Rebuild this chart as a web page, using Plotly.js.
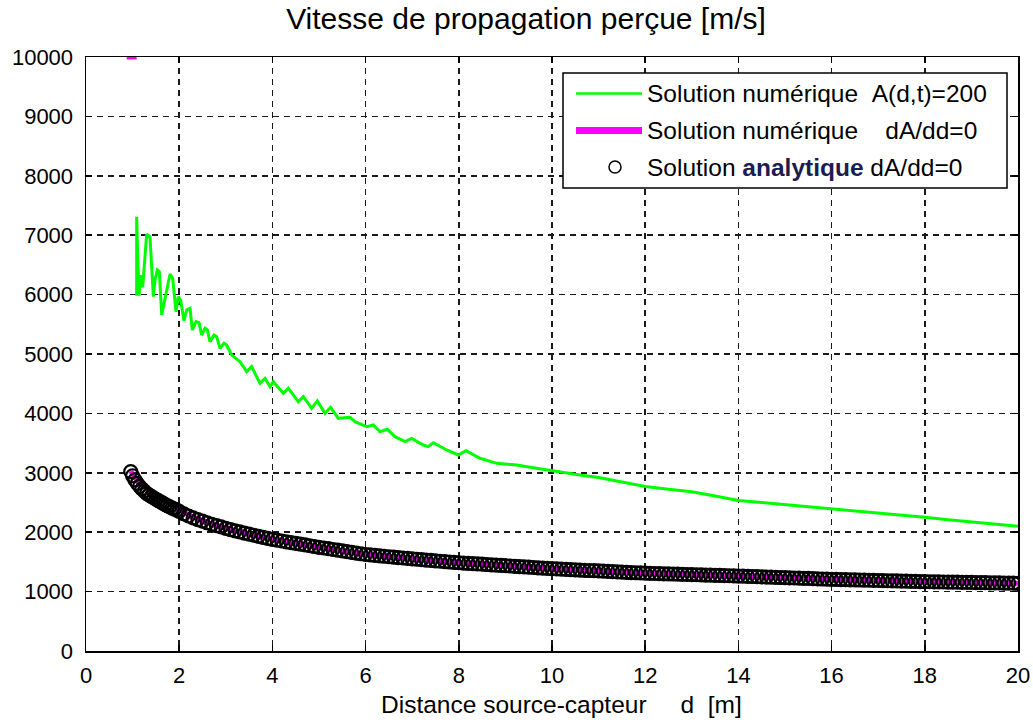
<!DOCTYPE html>
<html>
<head>
<meta charset="utf-8">
<script src="https://cdn.plot.ly/plotly-3.0.1.min.js"></script>
<style>html,body{margin:0;padding:0;background:#fff;}#chart{width:1033px;height:722px;}</style>
</head>
<body>
<div id="chart"></div>
<script>
// ---- data ----
const greenD = [1.087,1.087,1.109,1.137,1.173,1.216,1.302,1.373,1.445,1.481,1.531,1.574,1.624,1.695,1.803,1.860,1.931,1.981,2.031,2.103,2.160,2.232,2.282,2.361,2.425,2.482,2.554,2.604,2.661,2.747,2.804,2.876,2.961,3.019,3.126,
  3.305,3.448,3.555,3.734,3.841,3.948,4.02,4.235,4.342,4.556,4.664,4.843,4.964,5.129,5.25,5.415,5.665,5.773,6.023,6.166,6.309,6.466,6.631,6.845,6.989,7.239,7.346,7.453,7.74,7.99,8.155,8.455,8.813,9.242,9.528,9.886,10.243,10.6,
  11,11.5,12,12.5,13,13.5,14,14.5,15,15.5,16,16.5,17,17.5,18,18.5,19,19.5,20];
const greenV = [5982,7312,6639,5982,6330,6122,7015,6975,5965,6246,6414,6386,5657,5937,6347,6274,5713,5965,5909,5561,5741,5769,5404,5544,5527,5320,5432,5404,5208,5320,5292,5095,5180,5152,4983,
  4871,4703,4787,4506,4590,4450,4534,4338,4422,4198,4282,4085,4209,4001,4102,3917,3934,3861,3777,3805,3692,3732,3608,3524,3580,3468,3440,3507,3384,3300,3373,3244,3159,3131,3092,3047,3002,2963,
  2920,2840,2770,2725,2680,2610,2535,2500,2465,2435,2400,2365,2325,2290,2250,2210,2175,2140,2100];

const numD = [0.873,1.087,null,0.96,1.0,1.05,1.1,1.2,1.3,1.4,1.5,1.6,1.7,1.8,2.0,2.3,2.7,3.2,4,5,6,7,8,9,10,12,14,16,18,20];
const numV = [10000,10000,null,3030,2975,2915,2860,2790,2735,2680,2625,2570,2515,2465,2375,2255,2135,2025,1880,1746,1625,1548,1486,1434,1386,1310,1262,1208,1168,1140];

const anaD = [0.96,1.00,1.05,1.10,1.15,1.20,1.25,1.30,1.35,1.40,1.45,1.50,1.55,1.60,1.65,1.70,1.75,1.80,1.85,1.90,1.95,2.00,
  2.1,2.2,2.3,2.4,2.5,2.6,2.7,2.8,2.9,3.0,3.1,3.2,3.3,3.4,3.5,3.6,3.7,3.8,3.9,4.0,4.1,4.2,4.3,4.4,4.5,4.6,4.7,4.8,4.9,5.0,
  5.1,5.2,5.3,5.4,5.5,5.6,5.7,5.8,5.9,6.0,6.1,6.2,6.3,6.4,6.5,6.6,6.7,6.8,6.9,7.0,7.1,7.2,7.3,7.4,7.5,7.6,7.7,7.8,7.9,8.0,
  8.1,8.2,8.3,8.4,8.5,8.6,8.7,8.8,8.9,9.0,9.1,9.2,9.3,9.4,9.5,9.6,9.7,9.8,9.9,10.0,
  10.1,10.2,10.3,10.4,10.5,10.6,10.7,10.8,10.9,11.0,11.1,11.2,11.3,11.4,11.5,11.6,11.7,11.8,11.9,12.0,
  12.1,12.2,12.3,12.4,12.5,12.6,12.7,12.8,12.9,13.0,13.1,13.2,13.3,13.4,13.5,13.6,13.7,13.8,13.9,14.0,
  14.1,14.2,14.3,14.4,14.5,14.6,14.7,14.8,14.9,15.0,15.1,15.2,15.3,15.4,15.5,15.6,15.7,15.8,15.9,16.0,
  16.1,16.2,16.3,16.4,16.5,16.6,16.7,16.8,16.9,17.0,17.1,17.2,17.3,17.4,17.5,17.6,17.7,17.8,17.9,18.0,
  18.1,18.2,18.3,18.4,18.5,18.6,18.7,18.8,18.9,19.0,19.1,19.2,19.3,19.4,19.5,19.6,19.7,19.8,19.9,20.0];
const anaV = [3020,2950,2880,2820,2770,2730,2690,2655,2630,2605,2580,2555,2530,2510,2490,2465,2445,2425,2405,2390,2370,2350,
  2310,2273,2240,2212,2185,2159,2133,2110,2088,2066,2044,2023,2004,1985,1967,1949,1931,1914,1897,1880,1866,1852,1838,1824,1811,1798,1785,1772,1759,1746,
  1734,1722,1709,1697,1685,1673,1661,1649,1637,1625,1617,1610,1602,1595,1587,1580,1573,1566,1559,1552,1545,1538,1531,1524,1518,1511,1505,1498,1492,1486,
  1481,1476,1471,1466,1461,1456,1451,1446,1441,1436,1431,1426,1421,1416,1411,1406,1401,1396,1391,1386,
  1382,1378,1374,1371,1367,1363,1359,1355,1352,1348,1344,1340,1336,1333,1329,1325,1321,1317,1314,1310,
  1308,1305,1303,1300,1298,1296,1293,1291,1288,1286,1284,1281,1279,1276,1274,1272,1269,1267,1264,1262,
  1259,1256,1254,1251,1248,1245,1243,1240,1237,1234,1232,1229,1226,1223,1221,1218,1215,1212,1210,1207,
  1205,1203,1201,1199,1197,1195,1193,1191,1189,1187,1185,1183,1181,1179,1177,1175,1173,1171,1169,1167,
  1166,1164,1163,1162,1160,1159,1158,1156,1155,1154,1152,1151,1150,1148,1147,1146,1144,1143,1142,1140];

const xTicks = [0,2,4,6,8,10,12,14,16,18,20];
const yTicks = [0,1000,2000,3000,4000,5000,6000,7000,8000,9000,10000];
const legendLabels = [
  'Solution numérique\u00A0\u00A0A(d,t)=200',
  'Solution numérique\u00A0\u00A0\u00A0\u00A0dA/dd=0',
  'Solution <b style="color:#1c1c50">analytique</b> dA/dd=0'
];
const titleText = 'Vitesse de propagation perçue [m/s]';
const xTitleText = 'Distance source-capteur\u00A0\u00A0\u00A0\u00A0\u00A0d\u00A0\u00A0[m]';

// ---- chart ----
const FONT = 'Liberation Sans, Arial, Helvetica, sans-serif';
const traces = [
  {x: greenD, y: greenV, type: 'scatter', mode: 'lines', name: legendLabels[0],
   line: {color: '#00ff00', width: 3}, showlegend: false},
  {x: numD, y: numV, type: 'scatter', mode: 'lines', name: legendLabels[1],
   line: {color: '#ff00ff', width: 5}, connectgaps: false, showlegend: false},
  {x: anaD, y: anaV, type: 'scatter', mode: 'markers', name: legendLabels[2],
   marker: {symbol: 'circle-open', size: 13, color: '#000000', line: {width: 2.2}}, showlegend: false}
];

// legend and x-axis title placed in paper coordinates (pixel layout converted)
const L = 86, T = 57, W = 932, H = 594;
const px = X => (X - L) / W;
const py = Y => (T + H - Y) / H;
const rowsY = [93.5, 130.5, 167];
const shapes = [
  {type: 'rect', xref: 'paper', yref: 'paper', x0: px(563), x1: px(1007), y0: py(188), y1: py(73),
   line: {color: '#000', width: 1.5}, fillcolor: '#fff', layer: 'above'},
  {type: 'line', xref: 'paper', yref: 'paper', x0: px(576), x1: px(642), y0: py(rowsY[0]), y1: py(rowsY[0]),
   line: {color: '#00ff00', width: 2.5}, layer: 'above'},
  {type: 'line', xref: 'paper', yref: 'paper', x0: px(576), x1: px(642), y0: py(rowsY[1]), y1: py(rowsY[1]),
   line: {color: '#ff00ff', width: 7}, layer: 'above'},
  {type: 'circle', xref: 'paper', yref: 'paper', x0: px(609), x1: px(621), y0: py(rowsY[2] + 6), y1: py(rowsY[2] - 6),
   line: {color: '#000', width: 1.5}, layer: 'above'}
];
const annotations = legendLabels.map((t, i) => ({
  text: t, xref: 'paper', yref: 'paper', x: px(645), y: py(rowsY[i]), xanchor: 'left', yanchor: 'middle',
  showarrow: false, font: {family: FONT, size: 24.5, color: '#000'}
}));
annotations.push({
  text: xTitleText, xref: 'paper', yref: 'paper', x: px(561), y: py(704), xanchor: 'center', yanchor: 'middle',
  showarrow: false, font: {family: FONT, size: 24.5, color: '#000'}
});

const axisCommon = {
  showline: true, linecolor: '#000', linewidth: 1.5, mirror: 'ticks',
  ticks: 'inside', ticklen: 6, tickwidth: 1.5, tickcolor: '#000',
  showgrid: true, gridcolor: '#1a1a1a', gridwidth: 1.5, griddash: '6px,5px',
  zeroline: false, tickfont: {family: FONT, size: 22, color: '#000'}
};

const layout = {
  width: 1033, height: 722,
  margin: {l: L, r: 1033 - L - W, t: T, b: 722 - T - H},
  paper_bgcolor: '#fff', plot_bgcolor: '#fff',
  font: {family: FONT, color: '#000'},
  title: {text: titleText, font: {family: FONT, size: 30, color: '#000'},
          xref: 'paper', x: px(526), xanchor: 'center', yref: 'container', y: 0.974, yanchor: 'middle'},
  xaxis: Object.assign({}, axisCommon, {range: [0, 20], tickvals: xTicks, ticktext: xTicks.map(String),
          ticklabelstandoff: 4}),
  yaxis: Object.assign({}, axisCommon, {range: [0, 10000], tickvals: yTicks, ticktext: yTicks.map(String),
          ticklabelstandoff: 7}),
  shapes: shapes, annotations: annotations, showlegend: false
};

Plotly.newPlot('chart', traces, layout, {displayModeBar: false, staticPlot: true});
</script>
</body>
</html>
